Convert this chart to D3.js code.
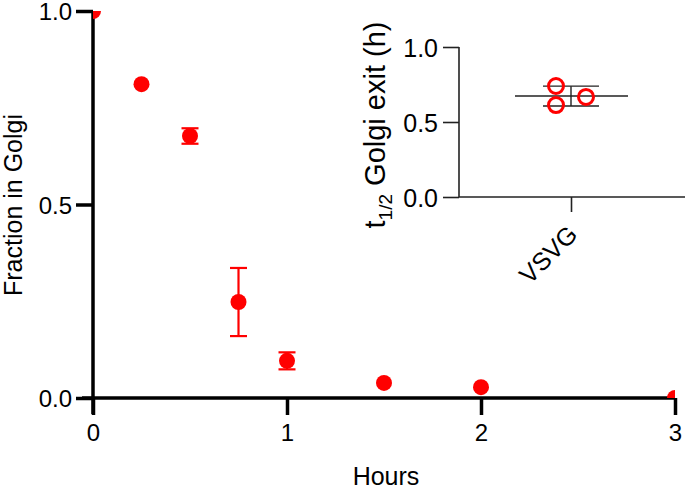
<!DOCTYPE html>
<html><head><meta charset="utf-8">
<script src="https://cdn.jsdelivr.net/npm/d3@7"></script>
<style>body{margin:0;background:#fff}svg{display:block}text{font-family:"Liberation Sans",Arial,sans-serif}</style>
</head><body>
<svg id="c" width="685" height="489"></svg>
<script>
// Main panel data
const hours = [0, 0.25, 0.5, 0.75, 1, 1.5, 2, 3];
const fraction = [1.0, 0.811, 0.677, 0.248, 0.096, 0.039, 0.028, 0.0];
const fractionErr = [0, 0, 0.02, 0.088, 0.022, 0, 0, 0];
const xTicks = [0, 1, 2, 3];
const yTicks = [0.0, 0.5, 1.0];
// Inset data
const insetCategory = ["VSVG"];
const halfLife = [0.74, 0.613, 0.667];
const halfLifeJitter = [-1, -1, 1];
const halfLifeMean = 0.673;
const halfLifeSD = 0.066;
const insetTicks = [0.0, 0.5, 1.0];

const svg = d3.select("#c");
const red = "#ff0000";

// ---------- main ----------
const x = d3.scaleLinear().domain([0, 3]).range([93, 675]);
const y = d3.scaleLinear().domain([0, 1]).range([398, 11]);

svg.append("clipPath").attr("id", "clip").append("rect")
  .attr("x", 93).attr("y", 11).attr("width", 582).attr("height", 387);

const gx = svg.append("g").attr("transform", "translate(0,398)")
  .call(d3.axisBottom(x).tickValues(xTicks).tickFormat(d3.format("d")).tickSize(17).tickPadding(9));
const gy = svg.append("g").attr("transform", "translate(93,0)")
  .call(d3.axisLeft(y).tickValues(yTicks).tickFormat(d3.format(".1f")).tickSize(17).tickPadding(4));
[gx, gy].forEach(g => {
  g.select(".domain").attr("stroke", "#000").attr("stroke-width", 3.5);
  g.selectAll(".tick line").attr("stroke", "#000").attr("stroke-width", 3.5);
  g.selectAll(".tick text").attr("fill", "#000").style("font-size", "24px");
});
gx.select(".domain").attr("d", "M82,0H675");
gy.select(".domain").attr("d", "M0,11V414");
gy.selectAll(".tick text").attr("dy", "0.37em");

const data = hours.map((h, i) => ({h, v: fraction[i], e: fractionErr[i]}));
const pts = svg.append("g").attr("clip-path", "url(#clip)");
const eb = pts.selectAll(".eb").data(data.filter(d => d.e > 0)).enter().append("g")
  .attr("stroke", red).attr("stroke-width", 2.2);
eb.append("line").attr("x1", d => x(d.h)).attr("x2", d => x(d.h))
  .attr("y1", d => y(d.v + d.e)).attr("y2", d => y(d.v - d.e));
eb.append("line").attr("x1", d => x(d.h) - 8.5).attr("x2", d => x(d.h) + 8.5)
  .attr("y1", d => y(d.v + d.e)).attr("y2", d => y(d.v + d.e));
eb.append("line").attr("x1", d => x(d.h) - 8.5).attr("x2", d => x(d.h) + 8.5)
  .attr("y1", d => y(d.v - d.e)).attr("y2", d => y(d.v - d.e));
pts.selectAll("circle").data(data).enter().append("circle")
  .attr("cx", d => x(d.h)).attr("cy", d => y(d.v)).attr("r", 8).attr("fill", red);

svg.append("text").attr("transform", "translate(22,205) rotate(-90)")
  .attr("text-anchor", "middle").style("font-size", "25px").text("Fraction in Golgi");
svg.append("text").attr("x", 386).attr("y", 485).attr("text-anchor", "middle")
  .style("font-size", "25px").text("Hours");

// ---------- inset ----------
const ix = d3.scalePoint().domain(insetCategory).range([459, 683]).padding(0.5);
const iy = d3.scaleLinear().domain([0, 1]).range([197, 47]);
const jit = 15;

const igx = svg.append("g").attr("transform", "translate(0,197)")
  .call(d3.axisBottom(ix).tickSize(15).tickFormat(""));
const igy = svg.append("g").attr("transform", "translate(459,0)")
  .call(d3.axisLeft(iy).tickValues(insetTicks).tickFormat(d3.format(".1f")).tickSize(16).tickPadding(5));
[igx, igy].forEach(g => {
  g.select(".domain").attr("stroke", "#222").attr("stroke-width", 1.6);
  g.selectAll(".tick line").attr("stroke", "#222").attr("stroke-width", 1.6);
  g.selectAll(".tick text").attr("fill", "#000").style("font-size", "25px");
});
igx.select(".domain").attr("d", "M459,0H685");
igy.select(".domain").attr("d", "M0,47V197");
igy.selectAll(".tick text").attr("dy", "0.37em");

const cx = ix("VSVG");
const stat = svg.append("g").attr("stroke", "#222").attr("stroke-width", 1.4);
stat.append("line").attr("x1", cx - 56).attr("x2", cx + 57).attr("y1", iy(halfLifeMean)).attr("y2", iy(halfLifeMean));
stat.append("line").attr("x1", cx).attr("x2", cx).attr("y1", iy(halfLifeMean + halfLifeSD)).attr("y2", iy(halfLifeMean - halfLifeSD));
stat.append("line").attr("x1", cx - 28).attr("x2", cx + 28).attr("y1", iy(halfLifeMean + halfLifeSD)).attr("y2", iy(halfLifeMean + halfLifeSD));
stat.append("line").attr("x1", cx - 28).attr("x2", cx + 28).attr("y1", iy(halfLifeMean - halfLifeSD)).attr("y2", iy(halfLifeMean - halfLifeSD));

svg.append("g").selectAll("circle").data(halfLife).enter().append("circle")
  .attr("cx", (d, i) => cx + halfLifeJitter[i] * jit).attr("cy", d => iy(d)).attr("r", 7.5)
  .attr("fill", "none").attr("stroke", red).attr("stroke-width", 3);

svg.append("text").attr("transform", `translate(${cx + 8},236) rotate(-45)`)
  .attr("text-anchor", "end").style("font-size", "25px").text("VSVG");

const yl = svg.append("text").attr("transform", "translate(385,125) rotate(-90)")
  .attr("text-anchor", "middle").style("font-size", "29px");
yl.append("tspan").text("t");
yl.append("tspan").attr("dy", 7).style("font-size", "19px").text("1/2");
yl.append("tspan").attr("dy", -7).text(" Golgi exit (h)");
</script>
</body></html>
